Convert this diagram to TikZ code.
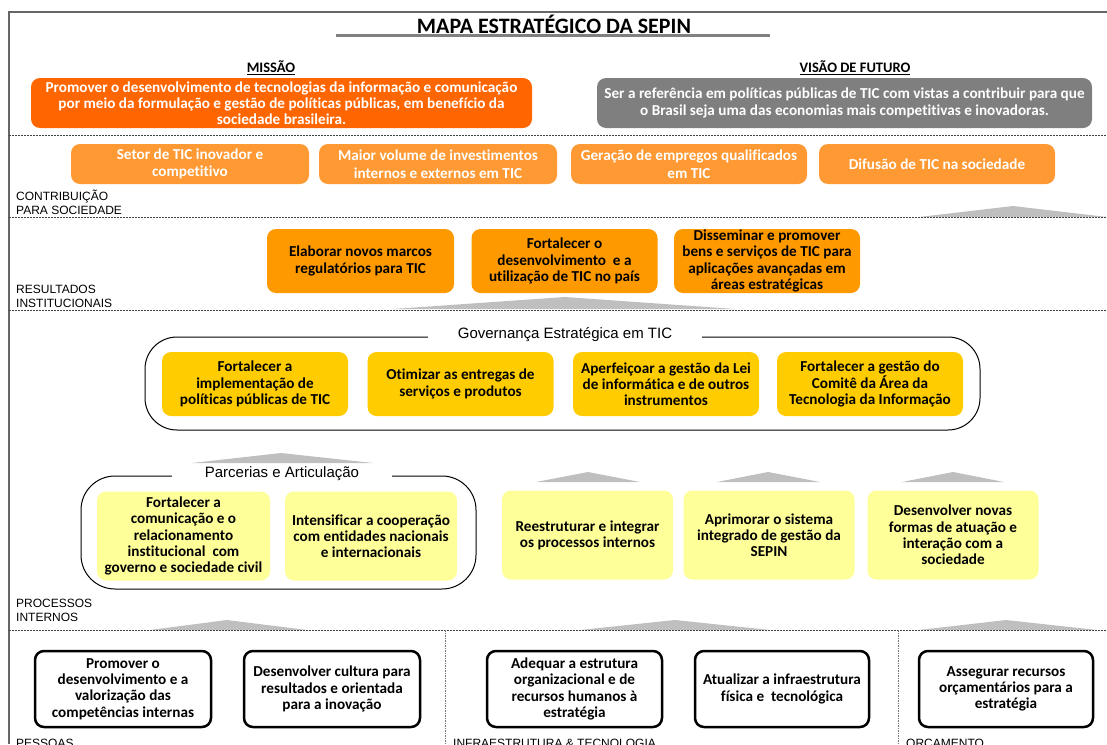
\documentclass[tikz,border=0pt]{standalone}
\usepackage{fontspec}
\setmainfont{Carlito}[Ligatures=NoCommon]
\newfontfamily\arialfont{Liberation Sans}
\definecolor{missao}{HTML}{FF6600}
\definecolor{visao}{HTML}{7F7F7F}
\definecolor{contrib}{HTML}{FF9933}
\definecolor{result}{HTML}{FF9900}
\definecolor{gover}{HTML}{FFCC00}
\definecolor{proc}{HTML}{FFFF99}
\definecolor{seta}{HTML}{BFBFBF}
\begin{document}
\begin{tikzpicture}[x=1pt,y=1pt,
   caixa/.style={rounded corners=9pt, align=center, inner xsep=1pt, inner ysep=0pt,
      font=\bfseries\fontsize{15.2}{16.2}\selectfont},
   base/.style={caixa, draw=black, line width=2.5pt, minimum width=176, minimum height=76},
   rotulo/.style={anchor=base west, inner sep=0pt, font=\arialfont\fontsize{12}{14}\selectfont},
   grupo/.style={fill=white, inner xsep=30pt, inner ysep=1pt, font=\arialfont\fontsize{15}{17}\selectfont},
   tracejado/.style={draw=black!75, dash pattern=on 2pt off 1pt, line width=0.8pt},
   divisao/.style={draw=black!55, dash pattern=on 1.5pt off 1pt, line width=0.8pt}]
   \useasboundingbox (0,0) rectangle (1107,-744);
   \clip (0,0) rectangle (1107,-744);

   \draw[line width=1.2pt, black!60] (1107,-12) -- (9,-12) -- (9,-744);
   \node (tit) at (554,-24) {\bfseries\fontsize{22}{24}\selectfont MAPA ESTRATÉGICO DA SEPIN};
   \draw[line width=3pt, black!50] (336,-35) -- (770,-35);

   % missao e visao
   \node (lmissao) at (271,-68) {\bfseries\fontsize{14.5}{16}\selectfont\underline{MISSÃO}};
   \node (lvisao) at (855,-68) {\bfseries\fontsize{14.5}{16}\selectfont\underline{VISÃO DE FUTURO}};
   \node[caixa, fill=missao, text=white, minimum width=501, minimum height=50] (missao) at (281.5,-103)
      {Promover o desenvolvimento de tecnologias da informação e comunicação\\
       por meio da formulação e gestão de políticas públicas, em benefício da\\
       sociedade brasileira.};
   \node[caixa, fill=visao, text=white, minimum width=495, minimum height=50] (visao) at (844.5,-103)
      {Ser a referência em políticas públicas de TIC com vistas a contribuir para que\\
       o Brasil seja uma das economias mais competitivas e inovadoras.};
   \draw[tracejado] (9,-135) -- (1107,-135);

   % contribuicao
   \node[caixa, fill=contrib, text=white, minimum width=238, minimum height=40] (c1) at (190,-164)
      {Setor de TIC inovador e\\[1.5pt]competitivo};
   \node[caixa, fill=contrib, text=white, minimum width=238, minimum height=40] (c2) at (438,-164)
      {Maior volume de investimentos\\[1.5pt]internos e externos em TIC};
   \node[caixa, fill=contrib, text=white, minimum width=236, minimum height=40] (c3) at (689,-164)
      {Geração de empregos qualificados\\[1.5pt]em TIC};
   \node[caixa, fill=contrib, text=white, minimum width=236, minimum height=40] (c4) at (937,-164)
      {Difusão de TIC na sociedade};
   \node[rotulo] (lc1) at (16,-200) {CONTRIBUIÇÃO};
   \node[rotulo] (lc2) at (16,-214) {PARA SOCIEDADE};
   \fill[seta] (919,-217) -- (1013,-206) -- (1107,-217) -- cycle;
   \draw[tracejado] (9,-217) -- (1107,-217);

   % resultados
   \node[caixa, fill=result, minimum width=187, minimum height=64] (r1) at (360.5,-261)
      {Elaborar novos marcos\\regulatórios para TIC};
   \node[caixa, fill=result, minimum width=186, minimum height=64] (r2) at (564.5,-261)
      {Fortalecer o\\desenvolvimento\ \ e a\\utilização de TIC no país};
   \node[caixa, fill=result, minimum width=186, minimum height=64] (r3) at (767,-261)
      {Disseminar e promover\\bens e serviços de TIC para\\aplicações avançadas em\\áreas estratégicas};
   \node[rotulo] (lr1) at (16,-293) {RESULTADOS};
   \node[rotulo] (lr2) at (16,-307) {INSTITUCIONAIS};
   \fill[seta] (393,-309) -- (565,-297) -- (735,-309) -- cycle;
   \draw[tracejado] (9,-310) -- (1107,-310);

   % governanca
   \draw[line width=1pt, rounded corners=32pt] (145,-337) rectangle (980,-430);
   \node[grupo] (lgov) at (565,-335) {Governança Estratégica em TIC};
   \node[caixa, fill=gover, minimum width=186, minimum height=64] (g1) at (255,-384)
      {Fortalecer a\\implementação de\\políticas públicas de TIC};
   \node[caixa, fill=gover, minimum width=186, minimum height=64] (g2) at (460.5,-384)
      {Otimizar as entregas de\\serviços e produtos};
   \node[caixa, fill=gover, minimum width=186, minimum height=64] (g3) at (666,-384)
      {Aperfeiçoar a gestão da Lei\\de informática e de outros\\instrumentos};
   \node[caixa, fill=gover, minimum width=186, minimum height=64] (g4) at (870,-384)
      {Fortalecer a gestão do\\Comitê da Área da\\Tecnologia da Informação};

   % processos internos
   \draw[line width=1pt, rounded corners=34pt] (81,-476) rectangle (476,-589);
   \node[grupo, inner xsep=33pt] (lparc) at (282,-474) {Parcerias e Articulação};
   \fill[seta] (192,-463) -- (281,-453) -- (373,-463) -- cycle;
   \node[caixa, fill=proc, minimum width=173, minimum height=89] (p1) at (183.5,-536)
      {Fortalecer a\\comunicação e o\\relacionamento\\institucional\ \ com\\governo e sociedade civil};
   \node[caixa, fill=proc, minimum width=172, minimum height=89] (p2) at (371,-536)
      {Intensificar a cooperação\\com entidades nacionais\\e internacionais};
   \node[caixa, fill=proc, minimum width=171, minimum height=89] (p3) at (587.5,-535)
      {Reestruturar e integrar\\os processos internos};
   \node[caixa, fill=proc, minimum width=171, minimum height=89] (p4) at (769,-535)
      {Aprimorar o sistema\\integrado de gestão da\\SEPIN};
   \node[caixa, fill=proc, minimum width=171, minimum height=89] (p5) at (953,-535)
      {Desenvolver novas\\formas de atuação e\\interação com a\\sociedade};
   \fill[seta] (536,-482) -- (588,-472) -- (640,-482) -- cycle;
   \fill[seta] (717,-482) -- (768,-472) -- (820,-482) -- cycle;
   \fill[seta] (902,-482) -- (953,-472) -- (1004,-482) -- cycle;
   \node[rotulo] (lp1) at (16,-607) {PROCESSOS};
   \node[rotulo] (lp2) at (16,-621) {INTERNOS};
   \fill[seta] (150,-630) -- (227,-620) -- (307,-630) -- cycle;
   \fill[seta] (580,-630) -- (675,-620) -- (770,-630) -- cycle;
   \fill[seta] (919,-630) -- (1006,-620) -- (1097,-630) -- cycle;
   \draw[tracejado] (9,-630) -- (1107,-630);
   \draw[divisao] (445,-630) -- (445,-744);
   \draw[divisao] (898,-630) -- (898,-744);

   % pessoas, infraestrutura, orcamento
   \node[base] (b1) at (123,-689)
      {Promover o\\desenvolvimento e a\\valorização das\\competências internas};
   \node[base] (b2) at (332,-689)
      {Desenvolver cultura para\\resultados e orientada\\para a inovação};
   \node[base, minimum width=175] (b3) at (574.5,-689)
      {Adequar a estrutura\\organizacional e de\\recursos humanos à\\estratégia};
   \node[base, minimum width=174] (b4) at (782,-689)
      {Atualizar a infraestrutura\\física e\ \ tecnológica};
   \node[base, minimum width=174] (b5) at (1006,-689)
      {Assegurar recursos\\orçamentários para a\\estratégia};
   \node[rotulo] (lb1) at (16,-747) {PESSOAS};
   \node[rotulo] (lb2) at (453,-747) {INFRAESTRUTURA \& TECNOLOGIA};
   \node[rotulo] (lb3) at (906,-747) {ORÇAMENTO};
\end{tikzpicture}
\end{document}
